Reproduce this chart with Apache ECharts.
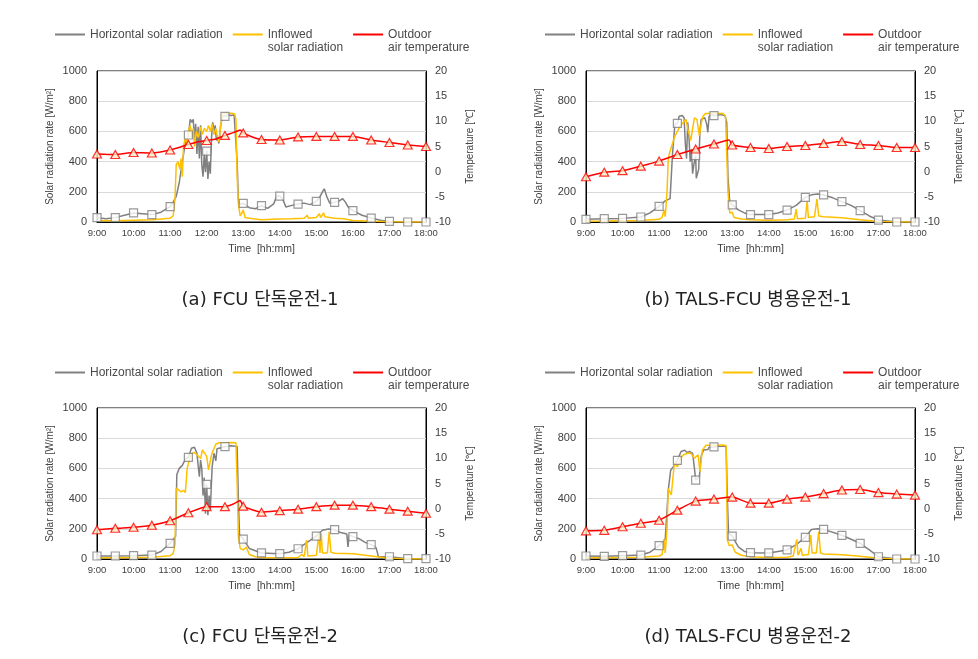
<!DOCTYPE html>
<html><head><meta charset="utf-8">
<script src="https://cdn.jsdelivr.net/npm/echarts@6/dist/echarts.min.js"></script>
<style>html,body{margin:0;padding:0;background:#fff}#c{width:978px;height:659px}</style>
</head><body><div id="c"></div>
<script>
// ---------- DATA ----------
const halfHourTicks = ['9:00','10:00','11:00','12:00','13:00','14:00','15:00','16:00','17:00','18:00'];
const seriesNames = ['Horizontal solar radiation', 'Inflowed\nsolar radiation', 'Outdoor\nair temperature'];
const captions = ['(a) FCU 단독운전-1', '(b) TALS-FCU 병용운전-1', '(c) FCU 단독운전-2', '(d) TALS-FCU 병용운전-2'];

// (a)
const aHorT = ['9:00','9:15','9:30','9:45','10:00','10:15','10:30','10:45','11:00','11:05','11:10','11:15','11:20','11:25','11:30','11:33','11:36','11:38','11:40','11:42','11:44','11:46','11:48','11:50','11:52','11:54','11:56','11:58','12:00','12:02','12:04','12:06','12:08','12:10','12:12','12:14','12:16','12:18','12:20','12:23','12:26','12:30','12:35','12:40','12:45','12:48','12:50','12:52','12:55','13:00','13:10','13:20','13:30','13:40','13:50','13:55','14:00','14:05','14:10','14:20','14:30','14:40','14:50','15:00','15:05','15:10','15:13','15:17','15:22','15:30','15:38','15:43','15:48','15:52','16:00','16:15','16:30','16:45','17:00','17:30','18:00'];
const aHorV = [29,22,29,45,60,55,49,65,102,130,170,260,400,520,576,680,660,680,540,650,450,630,420,640,380,300,450,330,470,285,400,320,560,660,600,640,540,560,520,640,700,700,710,705,710,700,400,150,115,124,95,88,108,90,120,172,172,150,100,110,119,125,115,137,160,200,220,170,125,130,140,155,130,100,75,45,26,12,4,0,0];
const aInfT = ['9:00','9:30','10:00','10:30','11:00','11:05','11:08','11:10','11:13','11:16','11:18','11:20','11:22','11:25','11:28','11:30','11:33','11:36','11:38','11:40','11:43','11:46','11:50','11:53','11:56','12:00','12:03','12:06','12:09','12:12','12:15','12:18','12:20','12:23','12:26','12:30','12:40','12:46','12:48','12:50','12:52','12:55','12:58','13:00','13:03','13:10','13:30','14:00','14:20','14:40','14:45','14:47','15:00','15:05','15:07','15:12','15:14','15:30','15:45','16:00','16:30','17:00','17:30','18:00'];
const aInfV = [10,8,12,15,25,40,150,380,400,350,420,300,500,560,520,600,640,560,620,500,600,560,630,580,620,600,640,600,650,580,620,560,530,640,710,720,720,715,680,300,120,40,60,80,30,25,15,20,22,25,45,25,30,55,30,60,35,25,22,10,5,1,0,0];
const aTmpT = ['9:00','9:30','10:00','10:30','11:00','11:30','11:45','12:00','12:15','12:30','12:45','12:55','13:00','13:15','13:30','14:00','14:30','15:00','15:30','16:00','16:30','17:00','17:30','18:00'];
const aTmpV = [3.5,3.4,3.8,3.7,4.3,5.4,5.9,6.2,6.5,7.2,7.8,8.3,7.7,6.9,6.4,6.3,6.9,7.0,7.0,7.0,6.3,5.8,5.3,5.0];

// (b)
const bHorT = ['9:00','9:30','10:00','10:30','10:45','11:00','11:10','11:18','11:22','11:26','11:30','11:33','11:38','11:41','11:43','11:45','11:47','11:49','11:51','11:53','11:55','11:57','12:00','12:01','12:03','12:05','12:07','12:09','12:12','12:15','12:18','12:20','12:22','12:26','12:30','12:40','12:48','12:51','12:53','12:56','13:00','13:10','13:20','13:30','14:00','14:15','14:30','14:45','15:00','15:10','15:20','15:30','15:45','16:00','16:15','16:30','16:45','17:00','17:30','18:00'];
const bHorV = [18,22,24,33,60,104,140,155,450,650,653,700,705,690,520,420,660,560,400,480,320,380,440,290,280,350,600,680,670,690,650,594,700,712,704,712,705,660,300,130,113,80,60,49,49,60,79,110,163,180,185,179,160,135,110,75,40,13,0,0];
const bInfT = ['9:00','9:30','10:00','10:30','11:00','11:05','11:08','11:10','11:13','11:15','11:18','11:22','11:26','11:30','11:35','11:40','11:44','11:48','11:52','11:55','11:58','12:02','12:06','12:09','12:12','12:16','12:30','12:45','12:49','12:51','12:53','12:56','13:00','13:03','13:15','13:30','14:00','14:30','14:42','14:45','14:47','15:00','15:03','15:05','15:15','15:19','15:22','15:30','16:00','16:30','17:00','17:30','18:00'];
const bInfV = [5,6,8,10,18,30,80,35,200,420,470,520,570,600,640,660,680,600,540,620,690,680,572,650,700,718,720,718,700,450,200,60,64,30,20,15,12,15,20,86,22,25,141,30,35,152,40,35,28,15,3,0,0];
const bTmpT = ['9:00','9:30','10:00','10:30','11:00','11:30','12:00','12:30','12:55','13:00','13:30','14:00','14:30','15:00','15:30','16:00','16:30','17:00','17:30','18:00'];
const bTmpV = [-1.0,-0.1,0.2,1.1,2.1,3.4,4.5,5.5,6.3,5.3,4.8,4.6,5.0,5.2,5.6,6.0,5.4,5.2,4.8,4.8];

// (c)
const cHorT = ['9:00','9:30','10:00','10:30','10:45','11:00','11:05','11:09','11:11','11:15','11:20','11:25','11:30','11:35','11:40','11:44','11:46','11:48','11:50','11:52','11:54','11:56','11:58','12:00','12:02','12:04','12:06','12:09','12:12','12:15','12:17','12:20','12:30','12:40','12:50','12:52','12:54','13:00','13:10','13:20','13:30','14:00','14:15','14:30','14:45','15:00','15:10','15:20','15:30','15:40','15:50','15:52','15:54','16:00','16:10','16:20','16:30','16:38','16:42','17:00','17:30','18:00'];
const cHorV = [20,20,22,26,50,104,130,150,560,600,620,660,673,733,740,700,620,545,655,600,420,540,300,494,290,420,330,611,700,650,730,737,744,750,745,400,160,132,70,55,40,35,45,68,110,152,190,198,194,175,165,80,160,148,135,110,95,75,15,15,2,2];
const cInfT = ['9:00','9:30','10:00','10:30','11:00','11:05','11:08','11:10','11:13','11:18','11:22','11:25','11:28','11:32','11:36','11:40','11:44','11:47','11:50','11:53','11:56','12:00','12:03','12:05','12:08','12:11','12:15','12:20','12:30','12:40','12:48','12:50','12:52','12:55','13:00','13:05','13:10','13:20','13:30','14:00','14:30','14:36','14:40','14:44','14:46','15:00','15:04','15:06','15:08','15:10','15:18','15:21','15:24','15:30','16:00','16:30','17:00','17:30','18:00'];
const cInfV = [8,8,10,12,22,35,100,470,460,445,455,440,600,665,700,705,690,700,665,722,710,680,590,600,690,722,760,770,770,772,770,500,150,70,60,80,30,15,10,8,10,30,15,125,20,25,160,40,170,40,40,180,45,38,35,20,5,0,0];
const cTmpT = ['9:00','9:30','10:00','10:30','11:00','11:30','12:00','12:30','12:45','12:55','13:00','13:30','14:00','14:30','15:00','15:30','16:00','16:30','17:00','17:30','18:00'];
const cTmpV = [-4.2,-3.9,-3.7,-3.3,-2.4,-0.8,0.4,0.4,1.0,1.6,0.5,-0.7,-0.4,-0.1,0.4,0.7,0.7,0.4,-0.1,-0.5,-0.9];

// (d)
const dHorT = ['9:00','9:30','10:00','10:30','10:45','11:00','11:10','11:13','11:15','11:19','11:25','11:30','11:36','11:42','11:46','11:50','11:55','11:58','12:00','12:03','12:06','12:09','12:13','12:20','12:22','12:30','12:40','12:50','12:52','12:54','13:00','13:10','13:20','13:30','14:00','14:30','14:45','15:00','15:10','15:20','15:30','16:00','16:30','16:45','17:00','17:30','18:00'];
const dHorV = [20,18,22,26,45,88,130,140,457,588,620,653,712,720,705,712,700,600,523,517,540,680,722,725,740,742,748,745,400,170,152,80,50,42,40,60,95,143,195,200,196,157,104,60,15,0,0];
const dInfT = ['9:00','9:30','10:00','10:30','11:00','11:05','11:08','11:10','11:13','11:15','11:20','11:25','11:30','11:35','11:40','11:47','11:52','11:58','12:04','12:07','12:11','12:17','12:30','12:45','12:50','12:52','12:55','13:00','13:05','13:15','13:30','14:00','14:30','14:40','14:46','14:48','14:53','14:55','15:05','15:09','15:11','15:18','15:22','15:25','15:30','16:00','16:30','17:00','17:30','18:00'];
const dInfV = [8,8,10,12,20,30,130,40,200,468,424,635,610,667,690,700,700,667,690,578,722,753,753,755,750,126,90,93,45,25,15,10,12,20,130,25,70,25,30,159,40,40,181,40,33,28,18,5,0,0];
const dTmpT = ['9:00','9:30','10:00','10:30','11:00','11:30','12:00','12:30','13:00','13:30','14:00','14:30','15:00','15:30','16:00','16:30','17:00','17:30','18:00'];
const dTmpV = [-4.4,-4.3,-3.6,-2.9,-2.3,-0.3,1.5,1.9,2.3,1.1,1.1,1.9,2.3,3.0,3.7,3.8,3.2,2.9,2.7];

// ---------- BUILD ----------
const toH = s => { const p = s.split(':'); return +p[0] + (+p[1]) / 60; };
const isHalf = s => { const m = +s.split(':')[1]; return m === 0 || m === 30; };
const pairs = (T, V) => T.map((t, i) => [toH(t), V[i]]);
const halfPairs = (T, V) => T.map((t, i) => isHalf(t) ? [toH(t), V[i]] : null).filter(p => p);

const panelData = [
  [aHorT, aHorV, aInfT, aInfV, aTmpT, aTmpV],
  [bHorT, bHorV, bInfT, bInfV, bTmpT, bTmpV],
  [cHorT, cHorV, cInfT, cInfV, cTmpT, cTmpV],
  [dHorT, dHorV, dInfT, dInfV, dTmpT, dTmpV]
];
const layout = [
  {left: 97, top: 71, legX: 55, legY: 15, capX: 260, capY: 300},
  {left: 586, top: 71, legX: 545, legY: 15, capX: 748, capY: 300},
  {left: 97, top: 408, legX: 55, legY: 353, capX: 260, capY: 637},
  {left: 586, top: 408, legX: 545, legY: 353, capX: 748, capY: 637}
];
const W = 329, H = 151;
const GRAY = '#808080', YEL = '#ffc000', RED = '#ff0000';
const lblFont = 'Liberation Sans';

const grid = [], xAxis = [], yAxis = [], series = [], legend = [], graphic = [];
layout.forEach((L, i) => {
  grid.push({left: L.left, top: L.top, width: W, height: H, show: true, borderColor: '#000', borderWidth: 1, containLabel: false});
  xAxis.push({
    type: 'value', gridIndex: i, min: 9, max: 18, interval: 1,
    name: 'Time  [hh:mm]', nameLocation: 'middle', nameGap: 22,
    nameTextStyle: {fontFamily: lblFont, fontSize: 10.5, color: '#404040'},
    axisLine: {show: true, lineStyle: {color: '#000', width: 1}},
    axisTick: {show: false}, splitLine: {show: false},
    axisLabel: {margin: 6, fontFamily: lblFont, fontSize: 9.5, color: '#404040', formatter: v => halfHourTicks[Math.round(v) - 9]}
  });
  yAxis.push({
    type: 'value', gridIndex: i, min: 0, max: 1000, interval: 200, position: 'left',
    name: 'Solar radiation rate [W/m²]', nameLocation: 'middle', nameGap: 42, nameRotate: 90,
    nameTextStyle: {fontFamily: lblFont, fontSize: 10, color: '#404040'},
    axisLine: {show: true, lineStyle: {color: '#000'}}, axisTick: {show: false},
    splitLine: {show: true, lineStyle: {color: '#d9d9d9', width: 1}},
    axisLabel: {margin: 10, fontFamily: lblFont, fontSize: 11, color: '#404040', formatter: v => String(v)}
  });
  yAxis.push({
    type: 'value', gridIndex: i, min: -10, max: 20, interval: 5, position: 'right',
    name: 'Temperature [℃]', nameLocation: 'middle', nameGap: 39, nameRotate: 90,
    nameTextStyle: {fontFamily: lblFont, fontSize: 10, color: '#404040'},
    axisLine: {show: true, lineStyle: {color: '#000'}}, axisTick: {show: false},
    splitLine: {show: false},
    axisLabel: {margin: 9, fontFamily: lblFont, fontSize: 11, color: '#404040', formatter: v => String(v)}
  });
  const [hT, hV, iT, iV, tT, tV] = panelData[i];
  series.push({name: seriesNames[0], type: 'line', xAxisIndex: i, yAxisIndex: 2 * i, data: pairs(hT, hV), symbol: 'none', lineStyle: {color: GRAY, width: 1.5}, itemStyle: {color: GRAY}, z: 2, animation: false});
  series.push({name: seriesNames[1], type: 'line', xAxisIndex: i, yAxisIndex: 2 * i, data: pairs(iT, iV), symbol: 'none', lineStyle: {color: YEL, width: 1.5}, itemStyle: {color: YEL}, z: 3, animation: false});
  series.push({name: seriesNames[2], type: 'line', xAxisIndex: i, yAxisIndex: 2 * i + 1, data: pairs(tT, tV), symbol: 'none', smooth: 0.2, lineStyle: {color: RED, width: 1.5}, itemStyle: {color: RED}, z: 4, animation: false});
  series.push({name: 'hmark' + i, type: 'scatter', xAxisIndex: i, yAxisIndex: 2 * i, data: halfPairs(hT, hV), symbol: 'rect', symbolSize: 8, itemStyle: {color: '#ffffff', borderColor: GRAY, borderWidth: 1.2}, z: 5, animation: false, silent: true});
  series.push({name: 'tmark' + i, type: 'scatter', xAxisIndex: i, yAxisIndex: 2 * i + 1, data: halfPairs(tT, tV), symbol: 'triangle', symbolSize: [9, 8], itemStyle: {color: '#f8efc6', borderColor: RED, borderWidth: 1.2}, z: 6, animation: false, silent: true});
  legend.push({
    data: seriesNames, left: L.legX, top: L.legY, orient: 'horizontal', padding: 0,
    icon: 'rect', itemWidth: 30, itemHeight: 2, itemGap: 10, selectedMode: false,
    formatter: n => '\n' + (n.indexOf('\n') >= 0 ? n : n + '\n'),
    textStyle: {fontFamily: lblFont, fontSize: 12, color: '#4a4a4a', lineHeight: 13}
  });
  graphic.push({type: 'text', x: L.capX, y: L.capY, style: {text: captions[i], textAlign: 'center', textVerticalAlign: 'middle', fontFamily: 'DejaVu Sans, Noto Sans CJK KR', fontSize: 18, fill: '#222'}});
});

const chart = echarts.init(document.getElementById('c'), null, {renderer: 'canvas'});
chart.setOption({animation: false, backgroundColor: '#fff', grid, xAxis, yAxis, series, legend, graphic});
</script></body></html>
